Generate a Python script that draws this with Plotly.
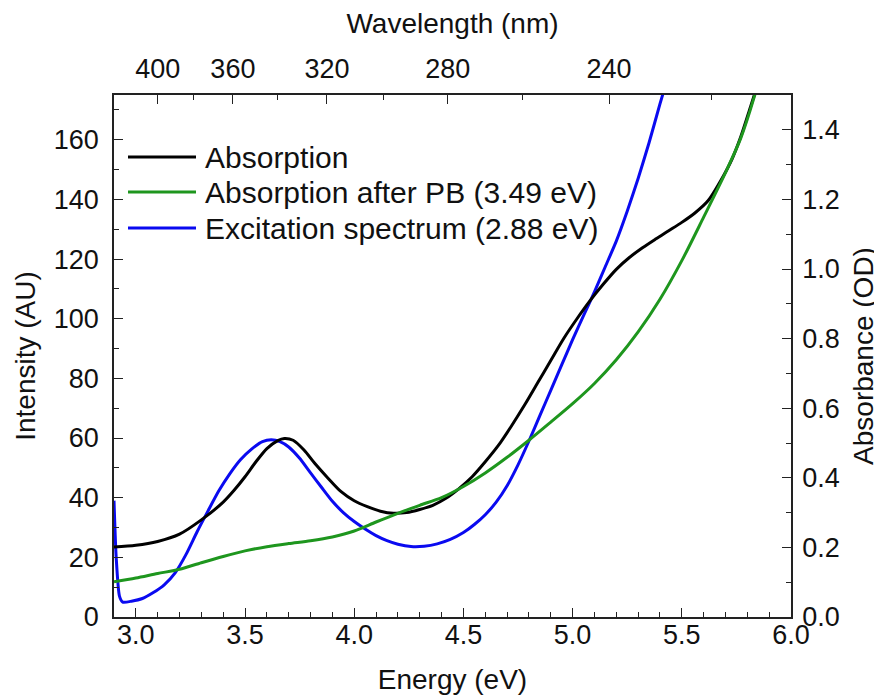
import plotly.graph_objects as go

# ---------------- data ----------------
energy_abs = [2.90, 3.00, 3.10, 3.20, 3.30, 3.40, 3.45, 3.50, 3.55, 3.60, 3.65, 3.68, 3.72,
              3.77, 3.82, 3.88, 3.94, 4.00, 4.06, 4.12, 4.18, 4.24, 4.30, 4.36, 4.42, 4.48,
              4.54, 4.60, 4.66, 4.72, 4.78, 4.84, 4.90, 4.96, 5.02, 5.08, 5.14, 5.20, 5.26,
              5.32, 5.38, 5.44, 5.50, 5.56, 5.62, 5.68, 5.73, 5.77, 5.81, 5.84, 5.86]
absorption_od = [0.201, 0.206, 0.217, 0.238, 0.279, 0.330, 0.364, 0.403, 0.446, 0.484, 0.507,
                 0.513, 0.508, 0.480, 0.441, 0.399, 0.360, 0.334, 0.317, 0.304, 0.298, 0.300,
                 0.309, 0.321, 0.341, 0.369, 0.403, 0.446, 0.493, 0.549, 0.609, 0.673, 0.737,
                 0.801, 0.857, 0.909, 0.956, 0.999, 1.033, 1.061, 1.086, 1.110, 1.134, 1.161,
                 1.196, 1.256, 1.316, 1.380, 1.457, 1.517, 1.569]

energy_pb = [2.90, 3.00, 3.10, 3.20, 3.30, 3.40, 3.50, 3.60, 3.70, 3.80, 3.90, 4.00, 4.10,
             4.20, 4.30, 4.40, 4.50, 4.60, 4.70, 4.80, 4.90, 5.00, 5.10, 5.20, 5.30, 5.40,
             5.50, 5.60, 5.70, 5.77, 5.83, 5.86]
absorption_pb_od = [0.101, 0.112, 0.125, 0.137, 0.156, 0.174, 0.190, 0.202, 0.211, 0.219,
                    0.230, 0.247, 0.273, 0.298, 0.321, 0.343, 0.375, 0.414, 0.459, 0.508,
                    0.560, 0.613, 0.671, 0.739, 0.819, 0.913, 1.024, 1.149, 1.277, 1.376,
                    1.491, 1.560]

energy_exc = [2.900, 2.910, 2.925, 2.94, 2.98, 3.03, 3.08, 3.13, 3.18, 3.23, 3.28, 3.33, 3.38,
              3.43, 3.48, 3.53, 3.58, 3.62, 3.66, 3.70, 3.75, 3.80, 3.85, 3.90, 3.95, 4.00,
              4.05, 4.10, 4.15, 4.20, 4.26, 4.32, 4.38, 4.44, 4.50, 4.55, 4.60, 4.65, 4.70,
              4.75, 4.80, 4.85, 4.90, 4.95, 5.00, 5.05, 5.10, 5.15, 5.20, 5.25, 5.30, 5.35,
              5.40, 5.44]
excitation_au = [39.0, 20.0, 7.0, 5.0, 5.3, 6.2, 8.2, 10.8, 14.8, 21.0, 28.5, 35.5, 42.3,
                 48.0, 52.8, 56.3, 58.8, 59.4, 58.8, 57.0, 53.2, 48.3, 43.5, 38.8, 35.0, 32.0,
                 29.5, 27.3, 25.6, 24.4, 23.6, 23.7, 24.5, 26.0, 28.3, 31.0, 34.3, 38.5, 44.0,
                 51.0, 59.0, 67.5, 76.0, 84.5, 93.0, 101.0, 109.0, 117.5, 126.0, 136.0, 147.0,
                 159.0, 172.0, 182.0]

wavelength_major = [400, 360, 320, 280, 240]
wavelength_minor = [380, 340, 300, 260, 220]

series_names = ["Absorption", "Absorption after PB (3.49 eV)", "Excitation spectrum (2.88 eV)"]
series_colors = ["#000000", "#1e961e", "#0a0af0"]

# ---------------- figure ----------------
FONT = "Liberation Sans, Arial, sans-serif"
PAGE_OFFSET = 8            # default body margin of the html page
W, H = 874, 688
L, R, T, B = 106, 91, 87, 79

fig = go.Figure()
fig.add_trace(go.Scatter(x=energy_abs, y=absorption_od, mode="lines", name=series_names[0],
                         line=dict(color=series_colors[0], width=3, shape="spline", smoothing=0.8),
                         xaxis="x", yaxis="y2", showlegend=False))
fig.add_trace(go.Scatter(x=energy_pb, y=absorption_pb_od, mode="lines", name=series_names[1],
                         line=dict(color=series_colors[1], width=3, shape="spline", smoothing=0.8),
                         xaxis="x2", yaxis="y2", showlegend=False))
fig.add_trace(go.Scatter(x=energy_exc, y=excitation_au, mode="lines", name=series_names[2],
                         line=dict(color=series_colors[2], width=3, shape="spline", smoothing=0.6),
                         xaxis="x", yaxis="y", showlegend=False))

axis_common = dict(showline=True, linecolor="#222", linewidth=1.6, ticks="inside",
                   ticklen=9, tickwidth=1.4, tickcolor="#222", showgrid=False, zeroline=False,
                   tickfont=dict(family=FONT, size=27, color="#111"))
minor_style = dict(ticks="inside", ticklen=5, tickwidth=1.2, tickcolor="#222")

fig.update_layout(
    width=W, height=H,
    margin=dict(l=L, r=R, t=T, b=B, autoexpand=False),
    paper_bgcolor="white", plot_bgcolor="white",
    font=dict(family=FONT, color="#111"),
    xaxis=dict(range=[2.9, 6.0], tickvals=[3.0, 3.5, 4.0, 4.5, 5.0, 5.5, 6.0],
               ticktext=["3.0", "3.5", "4.0", "4.5", "5.0", "5.5", "6.0"],
               minor=dict(dtick=0.1, tick0=0, **minor_style),
               title=dict(text="Energy (eV)", font=dict(family=FONT, size=28), standoff=20),
               ticklabelstandoff=-7,
               **axis_common),
    xaxis2=dict(range=[2.9, 6.0], overlaying="x", side="top",
                tickvals=[1240.0 / w for w in wavelength_major],
                ticktext=[str(w) for w in wavelength_major],
                minor=dict(tickmode="array", tickvals=[1240.0 / w for w in wavelength_minor],
                           **minor_style),
                title=dict(text="Wavelength (nm)", font=dict(family=FONT, size=28), standoff=18),
                ticklabelstandoff=4,
                **axis_common),
    yaxis=dict(range=[0, 175], tickvals=[0, 20, 40, 60, 80, 100, 120, 140, 160],
               minor=dict(dtick=10, tick0=0, **minor_style),
               title=dict(text="Intensity (AU)", font=dict(family=FONT, size=28), standoff=10),
               ticklabelstandoff=8,
               **axis_common),
    yaxis2=dict(range=[0, 1.5], overlaying="y", side="right",
                tickvals=[0, 0.2, 0.4, 0.6, 0.8, 1.0, 1.2, 1.4], tickformat=".1f",
                minor=dict(dtick=0.1, tick0=0, **minor_style),
                title=dict(text="Absorbance (OD)", font=dict(family=FONT, size=28), standoff=15),
                ticklabelstandoff=4,
                **axis_common),
)

# manual legend (long line samples like the reference); positions in page pixels
pw, ph = W - L - R, H - T - B
x_left = PAGE_OFFSET + L
y_bottom = PAGE_OFFSET + H - B
def px_x(p):
    return (p - x_left) / pw
def px_y(p):
    return (y_bottom - p) / ph

legend_rows = [157, 192, 228]
for name, color, row in zip(series_names, series_colors, legend_rows):
    fig.add_shape(type="line", xref="paper", yref="paper",
                  x0=px_x(128), x1=px_x(196), y0=px_y(row), y1=px_y(row),
                  line=dict(color=color, width=3))
    fig.add_annotation(xref="paper", yref="paper", x=px_x(203), y=px_y(row),
                       text=name, showarrow=False, xanchor="left", yanchor="middle",
                       font=dict(family=FONT, size=30, color="#111"))

fig.write_html("out.html")
